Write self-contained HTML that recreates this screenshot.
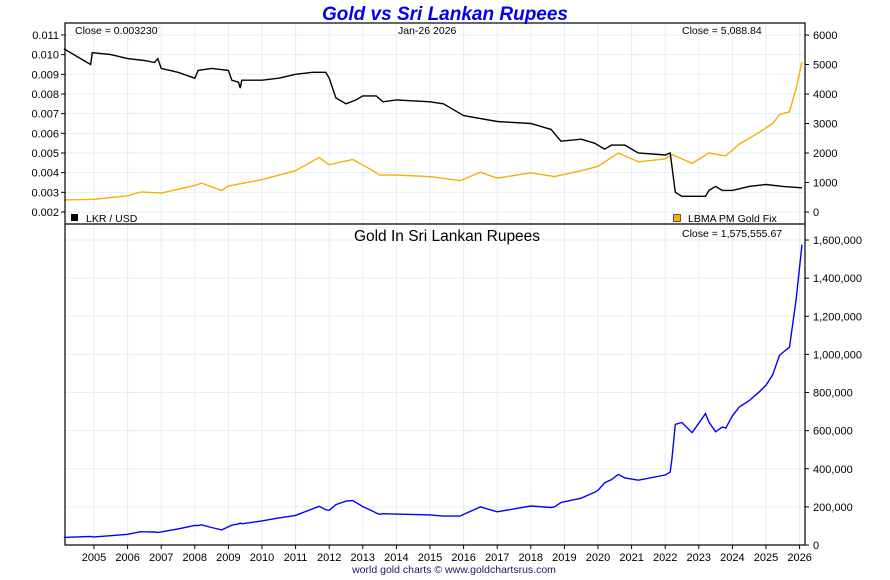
<!DOCTYPE html>
<html><head><meta charset="utf-8"><style>
body{margin:0;background:#fff;}
svg text{font-family:"Liberation Sans",sans-serif;}
</style></head><body>
<svg id="chart" width="890" height="575" xmlns="http://www.w3.org/2000/svg">
<g id="grid"></g>
<g id="series"></g>
<g id="axes"></g>
<text x="445" y="20" text-anchor="middle" font-size="19" font-weight="bold" font-style="italic" fill="#0000ee">Gold vs Sri Lankan Rupees</text>
<text x="75" y="34" font-size="10.5">Close = 0.003230</text>
<text x="398" y="34" font-size="10.5">Jan-26  2026</text>
<text x="682" y="34" font-size="10.5">Close = 5,088.84</text>
<rect x="71" y="214" width="7" height="7" fill="#000"/>
<text x="86" y="222" font-size="10.5">LKR / USD</text>
<rect x="673.5" y="214.5" width="7" height="7" fill="#f5b000" stroke="#000" stroke-width="0.6"/>
<text x="688" y="222" font-size="10.5">LBMA PM Gold Fix</text>
<text x="447" y="241" text-anchor="middle" font-size="15.5">Gold In Sri Lankan Rupees</text>
<text x="682" y="237" font-size="10.5">Close = 1,575,555.67</text>
<text x="454" y="573" text-anchor="middle" font-size="10.5" fill="#1a1a66">world gold charts © www.goldchartsrus.com</text>
</svg>
<script>
const years=[2005,2006,2007,2008,2009,2010,2011,2012,2013,2014,2015,2016,2017,2018,2019,2020,2021,2022,2023,2024,2025,2026];
const leftTicks=[0.002,0.003,0.004,0.005,0.006,0.007,0.008,0.009,0.010,0.011];
const rightTicks=[0,1000,2000,3000,4000,5000,6000];
const bottomTicks=[0,200000,400000,600000,800000,1000000,1200000,1400000,1600000];
const lkrDates=[2004.1,2004.5,2004.9,2004.95,2005.5,2006.0,2006.5,2006.8,2006.9,2007.0,2007.5,2008.0,2008.1,2008.5,2009.0,2009.1,2009.3,2009.35,2009.4,2010.0,2010.5,2011.0,2011.5,2011.9,2012.0,2012.2,2012.5,2012.8,2013.0,2013.4,2013.6,2014.0,2015.0,2015.4,2015.8,2016.0,2017.0,2018.0,2018.6,2018.9,2019.5,2019.9,2020.2,2020.4,2020.8,2021.2,2022.0,2022.15,2022.3,2022.5,2023.2,2023.3,2023.5,2023.7,2024.0,2024.5,2025.0,2025.5,2026.07];
const lkrUsd=[0.0103,0.0099,0.0095,0.0101,0.0100,0.0098,0.0097,0.0096,0.0098,0.0093,0.0091,0.0088,0.0092,0.0093,0.0092,0.0087,0.0086,0.0083,0.0087,0.0087,0.0088,0.0090,0.0091,0.0091,0.0088,0.0078,0.0075,0.0077,0.0079,0.0079,0.0076,0.0077,0.0076,0.0075,0.0071,0.0069,0.0066,0.0065,0.0062,0.0056,0.0057,0.0055,0.0052,0.0054,0.0054,0.0050,0.0049,0.0050,0.0030,0.0028,0.0028,0.0031,0.0033,0.0031,0.0031,0.0033,0.0034,0.0033,0.00323];
const goldDates=[2004.1,2005.0,2006.0,2006.4,2007.0,2008.0,2008.2,2008.8,2009.0,2010.0,2011.0,2011.7,2012.0,2012.7,2013.3,2013.5,2014.0,2015.0,2015.9,2016.5,2017.0,2018.0,2018.7,2019.5,2020.0,2020.6,2021.2,2022.0,2022.2,2022.8,2023.3,2023.8,2024.2,2024.8,2025.2,2025.4,2025.7,2025.9,2026.07];
const goldUsd=[410,430,550,680,640,900,980,730,880,1100,1400,1850,1600,1780,1400,1250,1250,1200,1060,1350,1150,1330,1200,1400,1550,2000,1700,1800,1950,1650,2000,1900,2300,2700,3000,3300,3400,4200,5089];
const NS="http://www.w3.org/2000/svg";
const L=65,R=805,T=23,MID=224,B=545;
const xS=t=>94+(t-2005)*33.6;
const yLeft=v=>212-(v-0.002)*1000*19.67;
const yRight=v=>212-v/1000*29.5;
const yBot=v=>545-v/1e6*190.6;
function el(tag,attrs,parent){const e=document.createElementNS(NS,tag);for(const k in attrs)e.setAttribute(k,attrs[k]);parent.appendChild(e);return e;}
function interp(dates,vals,t){if(t<=dates[0])return vals[0];for(let i=1;i<dates.length;i++){if(t<=dates[i]){const f=(t-dates[i-1])/(dates[i]-dates[i-1]);return vals[i-1]+f*(vals[i]-vals[i-1]);}}return vals[vals.length-1];}
const grid=document.getElementById('grid'),axes=document.getElementById('axes'),ser=document.getElementById('series');
years.forEach(y=>{const x=xS(y);
 const g=el('line',{x1:x,x2:x,y1:T,y2:B,stroke:'#e2eef8','stroke-width':1},grid);
 
 const tk=el('line',{x1:x,x2:x,y1:B,y2:B+4,stroke:'#000'},axes);
 
 const t=el('text',{x:x,y:561,'text-anchor':'middle','font-size':11},axes);t.textContent=y;
 });
leftTicks.forEach(v=>{const y=yLeft(v);
 const g=el('line',{x1:L,x2:R,y1:y,y2:y,stroke:'#e2eef8'},grid);
 
 const tk=el('line',{x1:L-4,x2:L,y1:y,y2:y,stroke:'#000'},axes);
 
 const t=el('text',{x:L-6,y:y+4,'text-anchor':'end','font-size':11},axes);t.textContent=v.toFixed(3);
 });
rightTicks.forEach(v=>{const y=yRight(v);
 const tk=el('line',{x1:R,x2:R+4,y1:y,y2:y,stroke:'#000'},axes);
 
 const t=el('text',{x:R+8,y:y+4,'font-size':11},axes);t.textContent=v;
 });
bottomTicks.forEach(v=>{const y=yBot(v);
 if(v>0){const g=el('line',{x1:L,x2:R,y1:y,y2:y,stroke:'#e2eef8'},grid);
 }
 const tk=el('line',{x1:R,x2:R+4,y1:y,y2:y,stroke:'#000'},axes);
 
 const t=el('text',{x:R+8,y:y+4,'font-size':11},axes);t.textContent=v.toLocaleString('en-US');
 });
const fr=el('rect',{x:L,y:T,width:R-L,height:B-T,fill:'none',stroke:'#000','stroke-width':1.2},axes);

const sep=el('line',{x1:L,x2:R,y1:MID,y2:MID,stroke:'#000','stroke-width':1.2},axes);

function path(dates,vals,ys,color,name){const d=dates.map((t,i)=>(i?'L':'M')+xS(t).toFixed(1)+','+ys(vals[i]).toFixed(1)).join('');
 const p=el('path',{d:d,fill:'none',stroke:color,'stroke-width':1.4},ser);
 }
path(goldDates,goldUsd,yRight,'#f5b000','gold-usd-line');
path(lkrDates,lkrUsd,yLeft,'#000','lkr-usd-line');
const allDates=[...new Set([...lkrDates,...goldDates])].sort((a,b)=>a-b);
const goldLkr=allDates.map(t=>interp(goldDates,goldUsd,t)/interp(lkrDates,lkrUsd,t));
path(allDates,goldLkr,yBot,'#0000ff','gold-lkr-line');
</script>
</body></html>
